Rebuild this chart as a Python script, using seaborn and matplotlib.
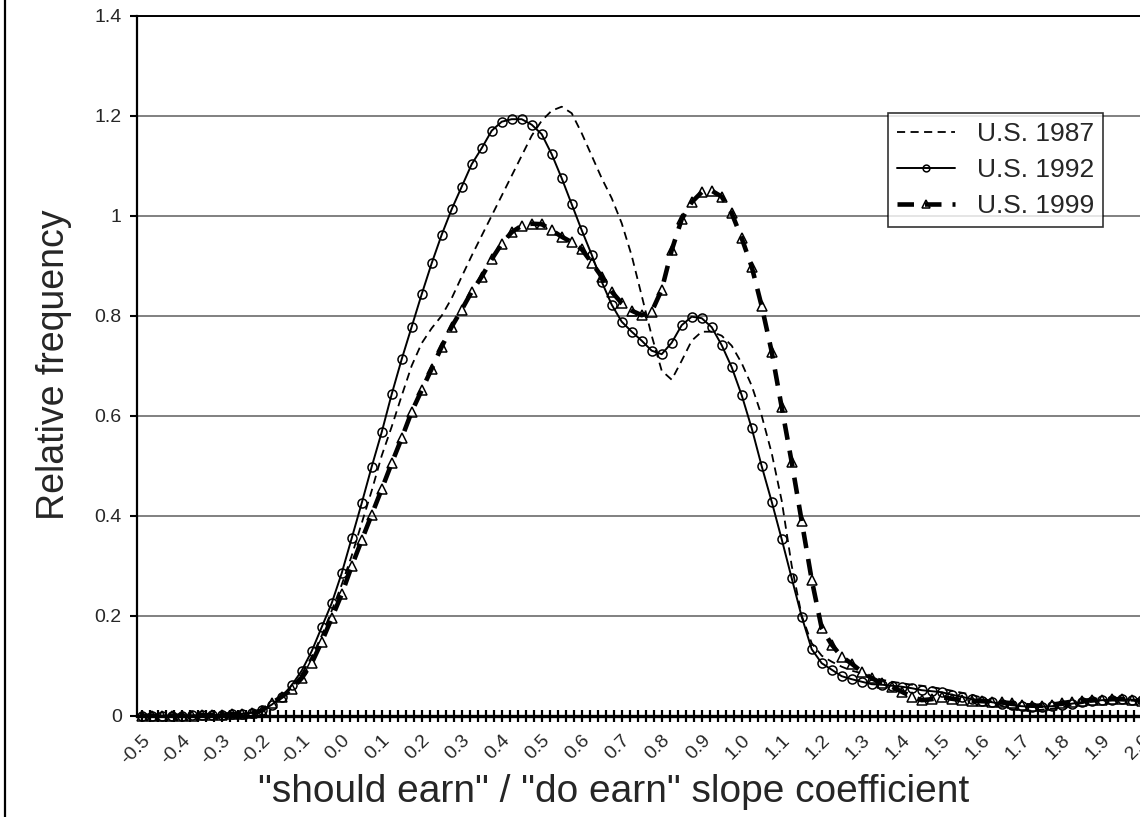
import numpy as np
import matplotlib
matplotlib.use('Agg')
import matplotlib.pyplot as plt
from matplotlib.ticker import MultipleLocator, FixedLocator, FixedFormatter
from matplotlib.lines import Line2D
import seaborn as sns

# -------------------------------------------------------
# DATA (step 0.025 from -0.5 to 2.0)
# -------------------------------------------------------
slope = np.linspace(-0.5, 2.0, 101)

us_1987 = [
    0.000, 0.000, 0.000, 0.000, 0.000, 0.000, 0.001, 0.001, 0.002, 0.002,
    0.003, 0.006, 0.012, 0.022, 0.036, 0.056, 0.083, 0.118, 0.160, 0.210,
    0.262, 0.320, 0.385, 0.450, 0.520, 0.578, 0.640, 0.700, 0.745, 0.775,
    0.800, 0.835, 0.878, 0.920, 0.960, 1.000, 1.040, 1.080, 1.120, 1.160,
    1.190, 1.210, 1.218, 1.205, 1.165, 1.120, 1.075, 1.035, 0.985, 0.920,
    0.840, 0.760, 0.690, 0.672, 0.710, 0.750, 0.768, 0.768, 0.760, 0.740,
    0.705, 0.660, 0.600, 0.525, 0.430, 0.300, 0.200, 0.145, 0.120, 0.108,
    0.098, 0.090, 0.085, 0.078, 0.072, 0.068, 0.065, 0.062, 0.060, 0.057,
    0.054, 0.050, 0.046, 0.042, 0.036, 0.028, 0.020, 0.013, 0.010, 0.010,
    0.012, 0.014, 0.017, 0.021, 0.025, 0.028, 0.030, 0.031, 0.031, 0.030,
    0.029,
]

us_1992 = [
    0.000, 0.000, 0.000, 0.000, 0.000, 0.001, 0.001, 0.001, 0.002, 0.003,
    0.004, 0.006, 0.011, 0.022, 0.038, 0.061, 0.090, 0.129, 0.177, 0.225,
    0.285, 0.355, 0.425, 0.498, 0.567, 0.643, 0.713, 0.778, 0.843, 0.905,
    0.962, 1.013, 1.058, 1.103, 1.135, 1.170, 1.188, 1.193, 1.193, 1.182,
    1.163, 1.123, 1.075, 1.023, 0.971, 0.922, 0.868, 0.822, 0.788, 0.768,
    0.750, 0.730, 0.723, 0.746, 0.781, 0.798, 0.795, 0.777, 0.741, 0.697,
    0.641, 0.575, 0.499, 0.428, 0.353, 0.275, 0.198, 0.133, 0.105, 0.092,
    0.079, 0.073, 0.068, 0.063, 0.062, 0.060, 0.058, 0.055, 0.051, 0.049,
    0.047, 0.042, 0.038, 0.033, 0.030, 0.027, 0.024, 0.021, 0.019, 0.018,
    0.018, 0.019, 0.021, 0.024, 0.027, 0.029, 0.031, 0.032, 0.033, 0.032,
    0.031,
]

us_1999 = [
    0.000, 0.000, 0.000, 0.000, 0.000, 0.000, 0.001, 0.001, 0.002, 0.003,
    0.004, 0.006, 0.010, 0.025, 0.038, 0.053, 0.075, 0.105, 0.148, 0.195,
    0.243, 0.299, 0.351, 0.402, 0.453, 0.505, 0.555, 0.608, 0.651, 0.694,
    0.738, 0.778, 0.812, 0.848, 0.878, 0.913, 0.944, 0.967, 0.980, 0.984,
    0.983, 0.971, 0.958, 0.947, 0.933, 0.906, 0.878, 0.848, 0.825, 0.810,
    0.801, 0.808, 0.852, 0.931, 0.993, 1.027, 1.047, 1.050, 1.038, 1.005,
    0.955, 0.898, 0.819, 0.728, 0.617, 0.507, 0.389, 0.272, 0.175, 0.142,
    0.118, 0.104, 0.088, 0.075, 0.065, 0.058, 0.048, 0.038, 0.031, 0.033,
    0.037, 0.034, 0.031, 0.030, 0.029, 0.028, 0.027, 0.025, 0.022, 0.020,
    0.020, 0.022, 0.025, 0.028, 0.030, 0.031, 0.032, 0.033, 0.033, 0.032,
    0.030,
]

x_ticks = np.linspace(-0.5, 2.0, 26)
x_tick_labels = [f'{v:.1f}' for v in x_ticks]
y_ticks = [0, 0.2, 0.4, 0.6, 0.8, 1.0, 1.2, 1.4]
y_tick_labels = ['0', '0.2', '0.4', '0.6', '0.8', '1', '1.2', '1.4']

# -------------------------------------------------------
# STYLE
# -------------------------------------------------------
sns.set_style('white')
plt.rcParams['font.family'] = ['Liberation Sans', 'DejaVu Sans']

W, H = 1140, 817
fig = plt.figure(figsize=(W / 100, H / 100), dpi=100)

ax_left, ax_right = 137, 1146
ax_top, ax_bottom = 15.7, 715.7
ax = fig.add_axes([ax_left / W, (H - ax_bottom) / H,
                   (ax_right - ax_left) / W, (ax_bottom - ax_top) / H])

# -------------------------------------------------------
# LINES
# -------------------------------------------------------
sns.lineplot(x=slope, y=us_1987, ax=ax, color='black', lw=1.3,
             linestyle=(0, (4.5, 3)), label='U.S. 1987', clip_on=False)

sns.lineplot(x=slope, y=us_1992, ax=ax, color='black', lw=1.4,
             marker='o', markersize=6.5, markerfacecolor='none',
             markeredgecolor='black', markeredgewidth=1.1,
             label='U.S. 1992', clip_on=False)

sns.lineplot(x=slope, y=us_1999, ax=ax, color='black', lw=3.3,
             linestyle=(0, (3.6, 2.4)), marker='^', markersize=7.5,
             markerfacecolor='none', markeredgecolor='black',
             markeredgewidth=1.1, label='U.S. 1999', clip_on=False)

# -------------------------------------------------------
# AXES
# -------------------------------------------------------
x0 = -0.5 - (141.7 - ax_left) / 400
x1 = -0.5 + (ax_right - 141.7) / 400
ax.set_xlim(x0, x1)
ax.set_ylim(0, 1.4)

ax.xaxis.set_major_locator(FixedLocator(x_ticks))
ax.xaxis.set_major_formatter(FixedFormatter(x_tick_labels))
ax.xaxis.set_minor_locator(MultipleLocator(0.02))
ax.tick_params(axis='x', which='both', direction='inout', length=9,
               width=1.6, color='black', bottom=True)
ax.tick_params(axis='x', which='major', labelsize=14, pad=7)
for lab in ax.get_xticklabels():
    lab.set_rotation(45)
    lab.set_ha('right')
    lab.set_va('top')
    lab.set_rotation_mode('anchor')

ax.yaxis.set_major_locator(FixedLocator(y_ticks))
ax.yaxis.set_major_formatter(FixedFormatter(y_tick_labels))
ax.tick_params(axis='y', direction='out', length=5, width=1.5,
               color='black', labelsize=14, pad=6, left=True)

ax.yaxis.grid(True, color='#808080', lw=1.4)
ax.set_axisbelow(True)

ax.spines['left'].set_linewidth(1.6)
ax.spines['left'].set_color('black')
ax.spines['top'].set_linewidth(1.4)
ax.spines['top'].set_color('black')
ax.spines['bottom'].set_linewidth(2.4)
ax.spines['bottom'].set_color('black')
ax.spines['right'].set_visible(False)

ax.set_xlabel('"should earn" / "do earn" slope coefficient', fontsize=28)
ax.xaxis.set_label_coords(614 / W, 1 - 802 / H, transform=fig.transFigure)
ax.xaxis.label.set_va('baseline')
ax.set_ylabel('Relative frequency', fontsize=27)
ax.yaxis.set_label_coords(64 / W, 1 - 365 / H, transform=fig.transFigure)
ax.yaxis.label.set_va('baseline')

leg = ax.legend(loc='lower right', bbox_to_anchor=(1103 / W, 1 - 227 / H),
                bbox_transform=fig.transFigure, fontsize=19, frameon=True,
                fancybox=False, edgecolor='black', borderpad=0.35,
                handlelength=2.2, handletextpad=0.8, labelspacing=0.45,
                markerscale=0.75, borderaxespad=0)
leg.get_frame().set_linewidth(1.2)

# chart area border on the left
fig.add_artist(Line2D([5 / W, 5 / W], [0, 1], transform=fig.transFigure,
                      color='black', lw=1.6))

fig.savefig('out.png', dpi=100)
